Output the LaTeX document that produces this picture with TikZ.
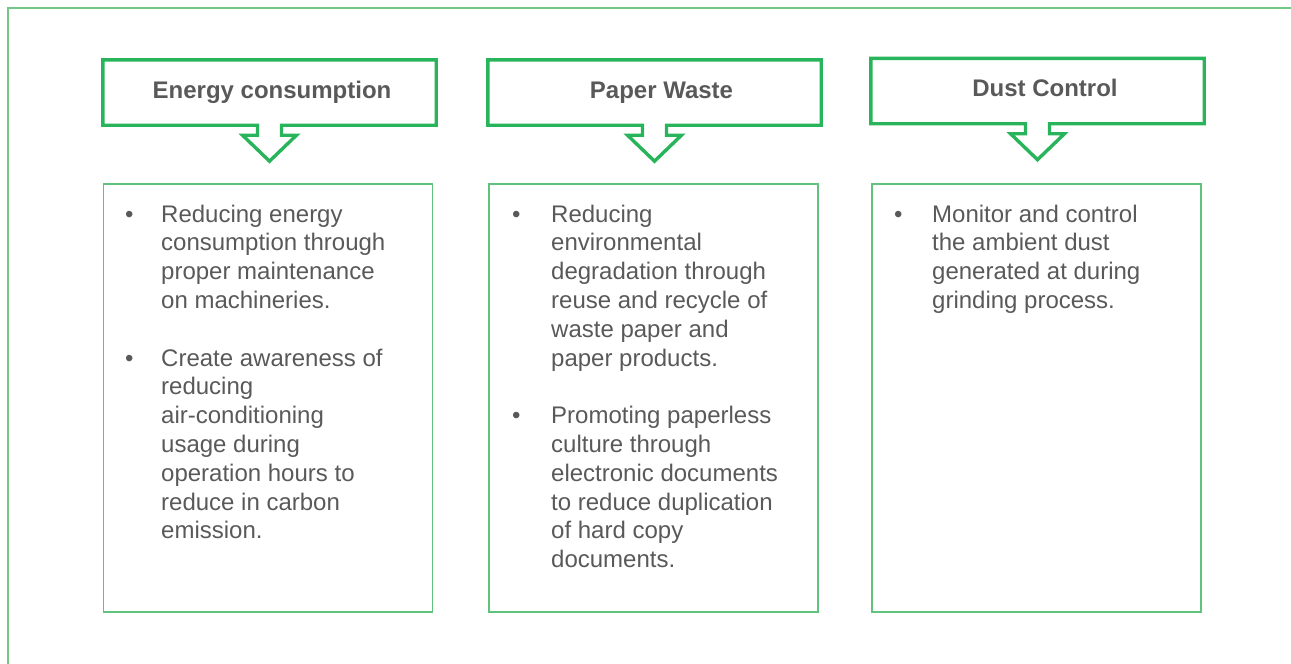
\documentclass[tikz,border=0pt]{standalone}
\usepackage{fontspec}
\setmainfont{Liberation Sans}
\usetikzlibrary{calc}
\definecolor{headgreen}{RGB}{40,180,90}
\definecolor{boxgreen}{RGB}{95,195,125}
\definecolor{framegreen}{RGB}{115,200,135}
\definecolor{textgray}{RGB}{89,89,89}
\tikzset{
  headbox/.style={rectangle, inner sep=0pt, minimum width=333pt, minimum height=65pt},
  headline/.style={draw=headgreen, line width=3.4pt, line join=miter},
  bodybox/.style={rectangle, draw=boxgreen, line width=1.4pt, inner sep=0pt, minimum width=329pt, minimum height=428pt},
  title/.style={anchor=base, inner sep=0pt, text=textgray, font=\fontsize{24}{28}\selectfont\bfseries},
  bodyline/.style={anchor=base west, inner sep=0pt, text=textgray, font=\fontsize{24}{28.8}\selectfont},
  dot/.style={anchor=base west, inner sep=0pt, text=textgray, font=\fontsize{24}{28.8}\selectfont}
}
% outline of a heading box with the downward arrow below it
\newcommand{\headoutline}[1]{%
  \draw[headline] (#1.south west) -- (#1.north west) -- (#1.north east) -- (#1.south east)
    -- ($(#1.south)+(12,0)$) -- ($(#1.south)+(12,10)$) -- ($(#1.south)+(27,10)$)
    -- ($(#1.south)+(0,36)$) -- ($(#1.south)+(-27,10)$) -- ($(#1.south)+(-12,10)$)
    -- ($(#1.south)+(-12,0)$) -- cycle;}
\begin{document}
\begin{tikzpicture}[x=1pt,y=-1pt]
\useasboundingbox (0,0) rectangle (1291,664);
% outer frame
\draw[framegreen, line width=1.5pt] (8,670) -- (8,8) -- (1300,8);

% headings
\node[headbox] (h1) at (269.5,92.5) {};
\node[headbox] (h2) at (654.5,92.5) {};
\node[headbox] (h3) at (1037.5,91) {};
\headoutline{h1}
\headoutline{h2}
\headoutline{h3}
\node[title] (t1) at (272,98) {Energy consumption};
\node[title] (t2) at (661.5,98) {Paper Waste};
\node[title] (t3) at (1045,96.5) {Dust Control};

% content boxes
\node[bodybox] (c1) at (268,398) {};
\node[bodybox] (c2) at (653.5,398) {};
\node[bodybox] (c3) at (1036.5,398) {};

% Energy consumption
\node[dot] (b11) at (125,222) {\textbullet};
\node[dot] (b12) at (125,366) {\textbullet};
\foreach \t [count=\k from 0] in {Reducing energy, consumption through, proper maintenance, on machineries.}
  \node[bodyline] (e1l\k) at (161,222+\k*28.8) {\t};
\foreach \t [count=\k from 5] in {Create awareness of, reducing, air-conditioning, usage during, operation hours to, reduce in carbon, emission.}
  \node[bodyline] (e2l\k) at (161,222+\k*28.8) {\t};

% Paper waste
\node[dot] (b21) at (512,222) {\textbullet};
\node[dot] (b22) at (512,423.6) {\textbullet};
\foreach \t [count=\k from 0] in {Reducing, environmental, degradation through, reuse and recycle of, waste paper and, paper products.}
  \node[bodyline] (p1l\k) at (551,222+\k*28.8) {\t};
\foreach \t [count=\k from 7] in {Promoting paperless, culture through, electronic documents, to reduce duplication, of hard copy, documents.}
  \node[bodyline] (p2l\k) at (551,222+\k*28.8) {\t};

% Dust control
\node[dot] (b31) at (894,222) {\textbullet};
\foreach \t [count=\k from 0] in {Monitor and control, the ambient dust, generated at during, grinding process.}
  \node[bodyline] (d1l\k) at (932,222+\k*28.8) {\t};
\end{tikzpicture}
\end{document}
